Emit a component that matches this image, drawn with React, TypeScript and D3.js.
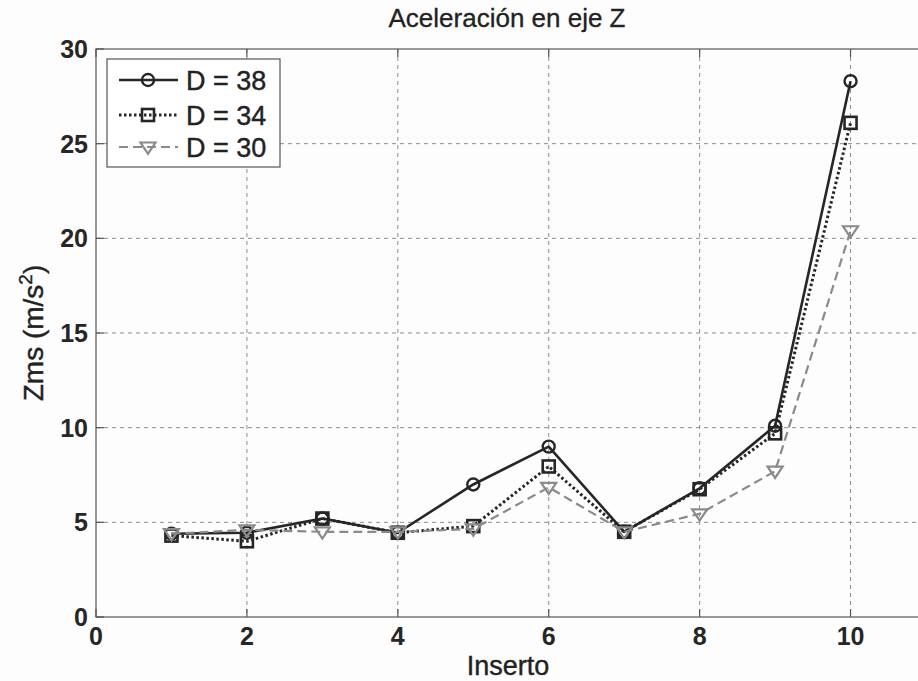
import React from "react";
import * as d3 from "d3";

const insertos = [1, 2, 3, 4, 5, 6, 7, 8, 9, 10];
const d38 = [4.4, 4.45, 5.2, 4.45, 7.0, 9.0, 4.5, 6.8, 10.1, 28.3];
const d34 = [4.3, 4.0, 5.2, 4.45, 4.8, 7.95, 4.5, 6.75, 9.7, 26.1];
const d30 = [4.4, 4.6, 4.5, 4.5, 4.65, 6.85, 4.5, 5.45, 7.7, 20.4];
const seriesNames = ["D = 38", "D = 34", "D = 30"];
const xTicks = [0, 2, 4, 6, 8, 10];
const yTicks = [0, 5, 10, 15, 20, 25, 30];

const W = 918;
const H = 681;
const left = 96;
const right = 926;
const top = 49;
const bottom = 617;

const FONT = "'Liberation Sans', Arial, sans-serif";

type Style = {
  color: string;
  width: number;
  dash: string | undefined;
  marker: "circle" | "square" | "tri";
};

const styles: Style[] = [
  { color: "#262626", width: 2.6, dash: undefined, marker: "circle" },
  { color: "#262626", width: 3, dash: "2.5,2.5", marker: "square" },
  { color: "#8a8a8a", width: 2.2, dash: "9,5", marker: "tri" },
];

function Marker({ x, y, s }: { x: number; y: number; s: Style }) {
  if (s.marker === "circle")
    return <circle cx={x} cy={y} r={6} fill="none" stroke={s.color} strokeWidth={2.4} />;
  if (s.marker === "square")
    return <rect x={x - 6} y={y - 6} width={12} height={12} fill="none" stroke={s.color} strokeWidth={2.6} />;
  const r = 7.5;
  const p = `M${x - r},${y - r * 0.6}L${x + r},${y - r * 0.6}L${x},${y + r * 0.9}Z`;
  return <path d={p} fill="none" stroke={s.color} strokeWidth={2.2} />;
}

export default function App() {
  const x = d3.scaleLinear().domain([0, 11]).range([left, right]);
  const y = d3.scaleLinear().domain([0, 30]).range([bottom, top]);
  const data = [d38, d34, d30];
  const line = d3
    .line<number>()
    .x((_, i) => x(insertos[i]))
    .y((v) => y(v));

  const legX = 107;
  const legY = 59;
  const legW = 173;
  const legH = 108;
  const rowY = [80, 115, 147];

  return (
    <svg
      width={W}
      height={H}
      style={{ position: "absolute", left: 0, top: 0, background: "#fff" }}
      fontFamily={FONT}
    >
      <rect x={0} y={0} width={W} height={H} fill="#fdfdfd" />
      {/* grid */}
      {xTicks
        .filter((t) => t > 0)
        .map((t) => (
          <line key={"gx" + t} x1={x(t)} x2={x(t)} y1={top} y2={bottom} stroke="#8c8c8c" strokeWidth={1} strokeDasharray="4,4" />
        ))}
      {yTicks
        .filter((t) => t > 0 && t < 30)
        .map((t) => (
          <line key={"gy" + t} x1={left} x2={right} y1={y(t)} y2={y(t)} stroke="#8c8c8c" strokeWidth={1} strokeDasharray="4,4" />
        ))}
      {/* axes box */}
      <rect x={left} y={top} width={right - left} height={bottom - top} fill="none" stroke="#555" strokeWidth={1.2} />
      {xTicks.map((t) => (
        <g key={"tx" + t}>
          <line x1={x(t)} x2={x(t)} y1={bottom} y2={bottom - 8} stroke="#555" strokeWidth={1.2} />
          <line x1={x(t)} x2={x(t)} y1={top} y2={top + 8} stroke="#555" strokeWidth={1.2} />
          <text x={x(t)} y={645} textAnchor="middle" fontSize={25} fontWeight="bold" fill="#262626">
            {t}
          </text>
        </g>
      ))}
      {yTicks.map((t) => (
        <g key={"ty" + t}>
          <line x1={left} x2={left + 8} y1={y(t)} y2={y(t)} stroke="#555" strokeWidth={1.2} />
          <text x={88} y={y(t) + 9} textAnchor="end" fontSize={25} fontWeight="bold" fill="#262626">
            {t}
          </text>
        </g>
      ))}
      {/* series */}
      {data.map((vals, si) => (
        <g key={"s" + si}>
          <path
            d={line(vals) || ""}
            fill="none"
            stroke={styles[si].color}
            strokeWidth={styles[si].width}
            strokeDasharray={styles[si].dash}
            strokeLinejoin="round"
          />
          {vals.map((v, i) => (
            <Marker key={i} x={x(insertos[i])} y={y(v)} s={styles[si]} />
          ))}
        </g>
      ))}
      {/* legend */}
      <rect x={legX} y={legY} width={legW} height={legH} fill="#fff" stroke="#555" strokeWidth={1.2} />
      {seriesNames.map((n, i) => (
        <g key={"l" + i}>
          <line
            x1={119}
            x2={178}
            y1={rowY[i]}
            y2={rowY[i]}
            stroke={styles[i].color}
            strokeWidth={styles[i].width}
            strokeDasharray={styles[i].dash}
          />
          <Marker x={148} y={rowY[i]} s={styles[i]} />
          <text x={186} y={rowY[i] + 10} fontSize={27} fill="#222" stroke="#222" strokeWidth={0.4}>
            {n}
          </text>
        </g>
      ))}
      {/* titles */}
      <text x={507} y={27} textAnchor="middle" fontSize={26} fill="#222" stroke="#222" strokeWidth={0.3}>
        Aceleración en eje Z
      </text>
      <text x={508} y={675} textAnchor="middle" fontSize={27} fill="#222" stroke="#222" strokeWidth={0.4}>
        Inserto
      </text>
      <text
        transform={`translate(43,${(top + bottom) / 2}) rotate(-90)`}
        textAnchor="middle"
        fontSize={28}
        fill="#222"
        stroke="#222"
        strokeWidth={0.4}
      >
        Zms (m/s
        <tspan dy={-11} fontSize={19}>2</tspan>
        <tspan dy={11}>)</tspan>
      </text>
    </svg>
  );
}
